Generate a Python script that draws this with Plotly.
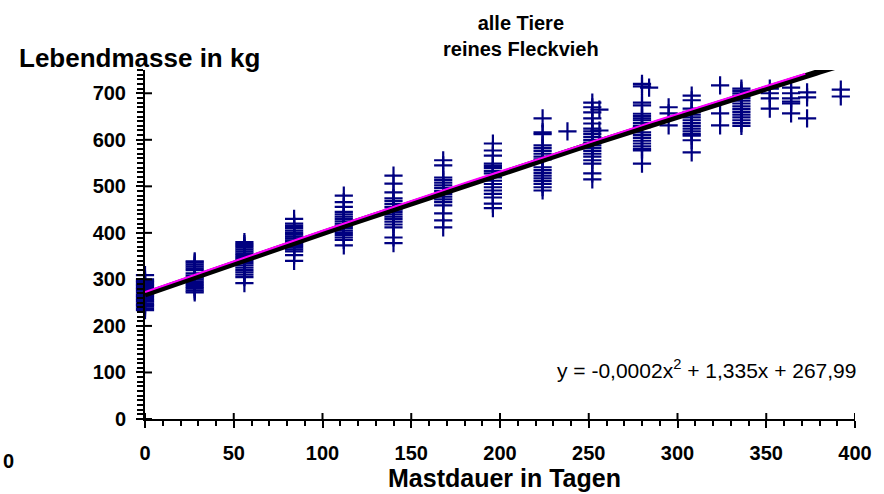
import plotly.graph_objects as go

# ---- data ----
tage = [0, 28, 56, 84, 112, 140, 168, 196, 224, 238, 252, 256, 280, 284,
        295, 308, 324, 336, 352, 364, 373, 392]
masse = [
    [309, 300, 297, 294, 291, 288, 285, 282, 279, 276, 272, 268, 265, 262, 258, 255, 252, 248, 245, 242, 238, 234],
    [339, 336, 332, 328, 324, 320, 313, 308, 304, 300, 296, 292, 288, 284, 280, 276, 272],
    [380, 376, 372, 368, 364, 360, 356, 352, 348, 344, 340, 335, 330, 325, 320, 315, 310, 305, 292],
    [430, 420, 415, 410, 405, 400, 396, 392, 388, 384, 380, 376, 372, 368, 364, 360, 352, 340],
    [480, 466, 456, 445, 440, 435, 430, 425, 420, 415, 410, 405, 400, 395, 390, 385, 373],
    [523, 506, 487, 474, 468, 462, 456, 450, 445, 440, 435, 430, 424, 418, 412, 390, 378],
    [556, 545, 519, 514, 508, 502, 496, 490, 484, 478, 472, 466, 459, 442, 427, 412],
    [592, 577, 566, 549, 544, 539, 533, 528, 519, 512, 505, 498, 491, 484, 476, 463, 453],
    [646, 616, 612, 588, 582, 576, 570, 564, 558, 541, 535, 529, 523, 517, 511, 505, 498, 491],
    [618],
    [680, 670, 659, 646, 635, 624, 618, 612, 606, 600, 594, 588, 582, 576, 570, 564, 556, 549, 528, 515],
    [665, 620],
    [720, 715, 680, 674, 656, 651, 646, 642, 636, 630, 627, 616, 610, 604, 598, 592, 586, 580, 577, 549],
    [712],
    [670, 657, 631],
    [695, 685, 667, 660, 654, 648, 642, 636, 630, 624, 618, 612, 609, 599, 573],
    [717, 657, 631],
    [710, 705, 700, 695, 690, 684, 678, 672, 666, 660, 654, 648, 642, 636, 630],
    [710, 700, 689, 667],
    [712, 700, 689, 682, 678, 657],
    [702, 691, 646],
    [708, 693],
]

# trend polynomial y = a*x^2 + b*x + c
koeff = [-0.0002, 1.335, 267.99]
trend_bereich = [0, 400]      # black trend line range (days)
magenta_bereich = [0, 372]    # magenta line range (days)
magenta_versatz = 5           # kg, magenta drawn slightly above

x_ticks = [0, 50, 100, 150, 200, 250, 300, 350, 400]
y_ticks = [0, 100, 200, 300, 400, 500, 600, 700]

# ---- build ----
px_, py_ = [], []
for t, vals in zip(tage, masse):
    for v in vals:
        px_.append(t)
        py_.append(v)


def poly(x, off=0.0):
    return koeff[0] * x * x + koeff[1] * x + koeff[2] + off


tx = list(range(trend_bereich[0], trend_bereich[1] + 1, 2))
ty = [poly(x) for x in tx]
mx = list(range(magenta_bereich[0], magenta_bereich[1] + 1, 2))
my = [poly(x, magenta_versatz) for x in mx]

FONT = "Arial, Liberation Sans, Helvetica, sans-serif"
NAVY = "#000080"

fig = go.Figure()
fig.add_trace(go.Scatter(
    x=px_, y=py_, mode="markers", cliponaxis=False,
    marker=dict(symbol="cross-thin", size=13, color=NAVY,
                line=dict(color=NAVY, width=2.2)),
    showlegend=False, hoverinfo="skip"))
fig.add_trace(go.Scatter(x=tx, y=ty, mode="lines",
                         line=dict(color="black", width=6), showlegend=False))
fig.add_trace(go.Scatter(x=mx, y=my, mode="lines",
                         line=dict(color="#ff00ff", width=2), showlegend=False))

axis_common = dict(
    showgrid=False, zeroline=False, showline=True, linecolor="black", linewidth=2,
    ticks="outside", ticklen=7, tickwidth=2, tickcolor="black",
    tickfont=dict(family=FONT, size=20, color="black", weight="bold"),
)

fig.update_xaxes(range=[0, 400], tickvals=x_ticks, ticktext=[str(v) for v in x_ticks],
                 minor=dict(dtick=10, ticks="outside", ticklen=5, tickwidth=2, tickcolor="black"),
                 ticklabelstandoff=8, **axis_common)
fig.update_yaxes(range=[0, 750], tickvals=y_ticks, ticktext=[str(v) for v in y_ticks],
                 minor=dict(dtick=10, ticks="outside", ticklen=6, tickwidth=2, tickcolor="black"),
                 ticklabelstandoff=6, **axis_common)

shapes = []
for v in x_ticks:
    shapes.append(dict(type="line", xref="x", yref="y", x0=v, x1=v,
                       ysizemode="pixel", yanchor=0, y0=0, y1=6,
                       line=dict(color="black", width=2)))
for v in y_ticks:
    shapes.append(dict(type="line", yref="y", xref="x", y0=v, y1=v,
                       xsizemode="pixel", xanchor=0, x0=0, x1=7,
                       line=dict(color="black", width=2)))

annotations = [
    dict(text="alle Tiere<br>reines Fleckvieh", xref="paper", yref="paper",
         x=0.529, y=1.172, xanchor="center", yanchor="top", showarrow=False,
         font=dict(family=FONT, size=20, color="black", weight="bold")),
    dict(text="Lebendmasse in kg", xref="paper", yref="paper",
         x=-0.18, y=1.034, xanchor="left", yanchor="middle", showarrow=False,
         font=dict(family=FONT, size=26, color="black", weight="bold")),
    dict(text="Mastdauer in Tagen", xref="paper", yref="paper",
         x=0.506, y=-0.17, xanchor="center", yanchor="middle", showarrow=False,
         font=dict(family=FONT, size=25, color="black", weight="bold")),
    dict(text="y = -0,0002x<sup>2</sup> + 1,335x + 267,99", xref="paper", yref="paper",
         x=1.004, y=0.143, xanchor="right", yanchor="middle", showarrow=False,
         font=dict(family=FONT, size=21, color="black")),
    dict(text="0", xref="paper", yref="paper",
         x=-0.2034, y=-0.12, xanchor="left", yanchor="middle", showarrow=False,
         font=dict(family=FONT, size=20, color="black", weight="bold")),
]

fig.update_layout(
    width=884, height=494,
    margin=dict(l=145, r=26, t=70, b=75),
    paper_bgcolor="white", plot_bgcolor="white",
    shapes=shapes, annotations=annotations, showlegend=False,
)

fig.write_html("out.html")
